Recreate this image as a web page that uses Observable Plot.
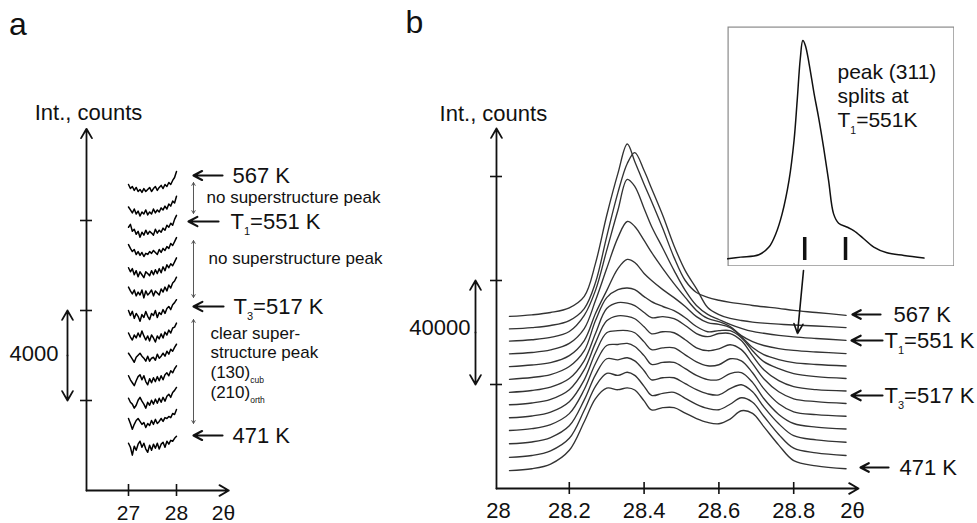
<!DOCTYPE html>
<html><head><meta charset="utf-8">
<script src="https://cdn.jsdelivr.net/npm/d3@7"></script>
<script src="https://cdn.jsdelivr.net/npm/@observablehq/plot@0.6"></script>
<style>
body{margin:0;background:#fff;}
#fig{position:relative;width:977px;height:523px;overflow:hidden;background:#fff;}
</style></head><body><div id="fig"></div>
<script>
// ---------------- DATA ----------------
const temps = [567, 559, 551, 543, 534, 526, 517, 509, 501, 494, 486, 479, 471];

// panel a: 2theta grid and intensity (counts, relative to each trace's own start)
const twoThetaA = [27.00,27.04,27.08,27.12,27.16,27.20,27.24,27.28,27.32,27.36,27.40,27.44,27.48,27.52,27.56,27.60,27.64,27.68,27.72,27.76,27.80,27.84,27.88,27.92,27.96,28.00];
const offsetsA = [13600,12600,11700,10800,9900,9000,8000,7000,6100,5100,4100,3200,2100];
const a567 = [0,-180,-90,-260,-130,-310,-220,-350,-180,-310,-220,-130,-310,-180,-90,-260,-130,-40,-180,0,-90,90,0,180,310,580];
const a559 = [0,-130,-260,-90,-310,-180,-400,-220,-310,-130,-350,-220,-310,-90,-260,-130,-220,-40,-130,40,-90,130,40,260,180,480];
const a551 = [0,130,-180,-90,-310,-180,-440,-220,-350,-130,-310,-180,-260,-350,-90,-260,-130,-220,-40,-130,90,0,180,90,350,530];
const a543 = [130,-40,-180,-90,-310,-180,-350,-220,-400,-260,-310,-180,-260,-130,-220,-310,-90,-220,-40,-130,40,-40,180,90,260,440];
const a534 = [0,-180,-40,-310,-130,-400,-180,-310,-440,-180,-260,-350,-130,-310,-90,-260,-40,-220,40,-130,130,0,180,90,260,440];
const a526 = [40,-130,-260,-90,-350,-180,-310,-90,-440,-130,-310,-220,-90,-350,-130,-220,-310,-40,-180,40,-130,130,0,220,310,480];
const a517 = [0,-220,-40,-350,-130,-260,-480,-180,-310,-40,-260,-400,-130,-220,0,-310,-90,-180,40,-130,90,180,40,260,350,480];
const a509 = [0,-180,-310,-90,-220,0,-180,90,-130,-310,-130,-350,-90,-220,-400,-130,-260,-40,-220,40,-90,130,0,220,260,440];
const a501 = [0,-130,-260,-400,-180,-90,0,-130,-220,-350,-130,-350,-220,-180,-310,-40,-220,-130,0,-130,90,-40,180,90,260,400];
const a494 = [0,-180,-310,-440,-220,-40,40,-180,0,-260,-400,-130,-310,-90,-260,-40,-220,0,-180,40,130,0,220,130,310,440];
const a486 = [0,-180,-260,-440,-310,-90,40,-130,-260,-440,-180,-310,-90,-260,-40,-220,0,-180,40,-130,90,180,40,260,350,480];
const a479 = [0,-220,-480,-260,-90,0,-130,-260,-180,-400,-220,-310,-90,-260,-40,-220,-130,0,-130,40,0,90,40,220,180,400];
const a471 = [0,-180,-530,-130,-310,-40,90,-180,0,-260,-400,-90,-310,-40,-220,0,-260,-40,40,-180,90,-40,130,90,220,310];
const seriesA = [a567,a559,a551,a543,a534,a526,a517,a509,a501,a494,a486,a479,a471];

// panel b: 2theta grid and intensity (counts above each trace's baseline)
const twoThetaB = [28.04,28.10,28.15,28.20,28.24,28.27,28.30,28.33,28.355,28.375,28.40,28.42,28.45,28.48,28.51,28.54,28.57,28.60,28.63,28.66,28.69,28.72,28.76,28.80,28.86,28.94];
const offsetsB = [66200,61400,56700,51800,46900,42000,37000,32200,27200,22300,17200,12000,6900];
const b567 = [0,600,1500,3300,7700,20400,38800,55000,66300,59600,50800,44200,33800,22700,13800,9200,7300,6200,5400,4800,4200,3700,3100,2300,1500,400];
const b559 = [0,500,1300,3200,7800,17800,35500,52400,63600,67800,60900,54000,43600,32000,22400,15500,8200,5500,4000,3200,2600,2200,1800,1500,1100,500];
const b551 = [0,500,1400,3700,9900,19500,34900,50300,62200,59500,51000,44100,35700,27200,19500,13700,10300,8300,6400,4900,3700,3000,2200,1600,1000,300];
const b543 = [0,500,1500,4000,9700,20500,32800,44700,50900,49000,43600,39000,32800,27000,21700,16700,13600,12400,10500,7000,4700,3200,2000,1300,700,100];
const b534 = [0,600,1500,4200,10000,20400,29200,37700,41200,40000,35800,33100,29600,26500,23100,19200,16900,16200,15000,11500,7300,4600,2700,1500,800,200];
const b526 = [0,700,1800,4900,11000,22600,31400,34500,35100,34500,31800,29900,28000,26400,23700,20300,18300,18700,18700,16000,11000,6800,4100,2200,1000,300];
const b517 = [0,700,2000,5300,12200,22600,32200,34500,34300,33300,30700,28700,29100,28300,25700,22600,21400,22600,22600,19900,14100,8700,4500,2200,1000,500];
const b509 = [0,700,2100,5800,13500,23800,32300,34200,34000,33100,30000,27300,28100,27700,25000,21900,20800,21500,23100,21200,15800,10000,5000,2300,1200,500];
const b501 = [0,700,2200,6200,14600,25000,32700,33500,33500,32700,29200,26200,26900,26900,24200,21500,20000,20400,22700,21900,17300,11200,5400,2300,1200,600];
const b494 = [0,700,2300,6500,15800,25800,32700,33100,33500,32300,28800,25400,26200,26200,23800,21200,19600,19600,21900,22300,18500,12300,6200,2700,1300,600];
const b486 = [0,700,2400,6900,16900,26500,32700,32300,33100,31900,28100,24600,25400,25400,23100,20800,19200,18800,21200,22700,20000,14200,7700,3100,1500,600];
const b479 = [0,700,2500,7300,18100,27300,32300,31500,32700,31500,27300,23800,24600,25000,22700,20400,18800,18300,20400,22900,21200,15800,8800,3500,1700,700];
const b471 = [0,700,2500,7800,18800,27700,31700,31100,31800,31000,26800,23300,24200,24200,22100,20000,18500,18000,19800,23000,22000,16900,9800,3800,1800,700];
const seriesB = [b567,b559,b551,b543,b534,b526,b517,b509,b501,b494,b486,b479,b471];

// inset: (311) peak at T1 = 551 K
const insetX = [28.250,28.271,28.300,28.316,28.327,28.337,28.348,28.356,28.361,28.366,28.370,28.374,28.380,28.388,28.395,28.403,28.411,28.419,28.427,28.441,28.451,28.467,28.483,28.504,28.531,28.563];
const insetY = [2.8,3.5,4.5,7.7,13.3,21.6,35.6,52.3,69.0,86.7,94.1,92.1,84.4,71.8,62.1,49.5,35.6,21.6,17.7,16.0,14.6,11.2,7.7,5.3,4.2,3.1];
const insetSplit = [28.373, 28.438];

const ticksA = [27, 28];
const yTicksA = [4000, 8000, 12000];
const ticksB = [28.2, 28.4, 28.6, 28.8];
const yTicksB = [40000, 80000, 120000];

// ---------------- RENDER ----------------
const FONT = '"Liberation Sans", Arial, Helvetica, sans-serif';
const INK = "#111";
const fig = document.getElementById("fig");

function subs(root){
  root.querySelectorAll("text").forEach(t=>{
    const s = t.textContent;
    if(!s.includes("_{")) return;
    const fs = parseFloat(getComputedStyle(t).fontSize) || 16;
    const parts = s.split(/_\{([^}]*)\}/);
    while(t.firstChild) t.removeChild(t.firstChild);
    let shifted = false;
    parts.forEach((p,i)=>{
      if(p==="") return;
      const ts = document.createElementNS("http://www.w3.org/2000/svg","tspan");
      ts.textContent = p;
      if(i%2===1){ ts.setAttribute("font-size",(fs*0.5)+"px"); ts.setAttribute("dy",(fs*0.3)+"px"); shifted=true; }
      else if(shifted){ ts.setAttribute("dy",(-fs*0.3)+"px"); shifted=false; }
      t.appendChild(ts);
    });
  });
}
function place(el,left,top){
  el.style.position="absolute"; el.style.left=left+"px"; el.style.top=top+"px";
  fig.appendChild(el); subs(el); return el;
}
const one = [0];
function arrow(x1,y1,x2,y2,o={}){
  return Plot.arrow(one,{x1,y1,x2,y2,stroke:o.stroke||INK,strokeWidth:o.w||1.8,headLength:o.h||9,headAngle:o.a||60});
}
function dbl(x,ya,yb,o){
  const m=(ya+yb)/2; return [arrow(x,m,x,ya,o),arrow(x,m,x,yb,o)];
}
function txt(x,y,text,size,anchor="start",extra={}){
  return Plot.text(one,{x,y,text:[text],fontSize:size,textAnchor:anchor,lineAnchor:"middle",fill:INK,...extra});
}

// ---------- Panel a ----------
const rowsA = temps.flatMap((t,i)=>seriesA[i].map((v,j)=>({t,x:twoThetaA[j],y:offsetsA[i]+v})));
const panelA = Plot.plot({
  width:400,height:523,margin:0,
  x:{domain:[24.3333,32.6667],axis:null},
  y:{domain:[-1466.67,21777.78],axis:null},
  style:{fontFamily:FONT,background:"transparent",overflow:"visible"},
  marks:[
    Plot.line(rowsA,{x:"x",y:"y",z:"t",stroke:"#000",strokeWidth:1.5,curve:"linear"}),
    arrow(26.125,0,26.125,16076,{w:1.8}),
    arrow(26.125,0,29.09,0,{w:1.8}),
    Plot.ruleY(yTicksA,{y:d=>d,x1:26.0,x2:26.25,stroke:INK,strokeWidth:1.6}),
    Plot.ruleX(ticksA,{x:d=>d,y1:-267,y2:267,stroke:INK,strokeWidth:1.6}),
    Plot.text(ticksA,{x:d=>d,y:-1022,text:d=>String(d),fontSize:21,fill:INK,lineAnchor:"middle"}),
    txt(28.979,-1022,"2θ",21,"middle"),
    txt(24.698,20711,"a",32,"middle"),
    txt(26.1667,16800,"Int., counts",22,"middle"),
    txt(25.5417,6089,"4000",22,"end"),
    ...dbl(25.729,8000,4000,{w:1.8,h:9}),
    // temperature arrows
    arrow(28.958,14000,28.354,14000,{w:2.2,h:10,a:55}),
    arrow(28.875,11955,28.25,11955,{w:2.2,h:10,a:55}),
    arrow(28.979,8178,28.354,8178,{w:2.2,h:10,a:55}),
    arrow(28.958,2444,28.354,2444,{w:2.2,h:10,a:55}),
    txt(29.1667,14000,"567 K",22),
    txt(29.125,11955,"T_{1}=551 K",22),
    txt(29.1875,8178,"T_{3}=517 K",22),
    txt(29.1667,2444,"471 K",22),
    ...dbl(28.354,13689,12311,{w:1,h:5,stroke:"#555"}),
    ...dbl(28.354,11111,8578,{w:1,h:5,stroke:"#555"}),
    ...dbl(28.354,7600,2978,{w:1,h:5,stroke:"#555"}),
    txt(28.625,13022,"no superstructure peak",17),
    txt(28.667,10311,"no superstructure peak",17),
    txt(28.708,6978,"clear super-",17),
    txt(28.708,6133,"structure peak",17),
    txt(28.708,5244,"(130)_{cub}",17),
    txt(28.708,4356,"(210)_{orth}",17)
  ]
});
place(panelA,0,0);

// ---------- Panel b ----------
const rowsB = temps.flatMap((t,i)=>seriesB[i].map((v,j)=>({t,x:twoThetaB[j],y:offsetsB[i]+v})));
const panelB = Plot.plot({
  width:577,height:523,margin:0,
  x:{domain:[27.74866,29.29144],axis:null},
  y:{domain:[-13461.5,187692.3],axis:null},
  style:{fontFamily:FONT,background:"transparent",overflow:"visible"},
  marks:[
    Plot.line(rowsB,{x:"x",y:"y",z:"t",stroke:"#333",strokeWidth:1.35,curve:"catmull-rom"}),
    arrow(28.0053,0,28.0053,138462,{w:1.8}),
    arrow(28.0053,0,28.9733,0,{w:1.8}),
    Plot.ruleY(yTicksB,{y:d=>d,x1:27.9893,x2:28.0214,stroke:INK,strokeWidth:1.6}),
    Plot.ruleX(ticksB,{x:d=>d,y1:-2308,y2:2308,stroke:INK,strokeWidth:1.6}),
    Plot.text(ticksB,{x:d=>d,y:-8462,text:d=>d.toFixed(1),fontSize:22,fill:INK,lineAnchor:"middle"}),
    txt(28.0107,-8462,"28",22,"middle"),
    txt(28.957,-8462,"2θ",22,"middle"),
    txt(27.786,179231,"b",32,"middle"),
    txt(27.997,144231,"Int., counts",22,"middle"),
    txt(27.9358,61923,"40000",22,"end"),
    ...dbl(27.9492,80000,40000,{w:1.8,h:9}),
    arrow(29.0321,66923,28.957,66923,{w:2.2,h:10,a:55}),
    arrow(29.0374,56923,28.9545,56923,{w:2.2,h:10,a:55}),
    arrow(29.0374,35769,28.9545,35769,{w:2.2,h:10,a:55}),
    arrow(29.0535,8077,28.9786,8077,{w:2.2,h:10,a:55}),
    txt(29.0668,66923,"567 K",22),
    txt(29.0428,56923,"T_{1}=551 K",22),
    txt(29.0428,35769,"T_{3}=517 K",22),
    txt(29.0829,8077,"471 K",22),
    arrow(28.8262,83846,28.8102,59615,{w:1.6,h:10,a:50})
  ]
});
place(panelB,400,0);

// ---------- Inset ----------
const insetRows = insetX.map((x,i)=>({x,y:insetY[i]}));
const inset = Plot.plot({
  width:227,height:240,margin:0,
  x:{domain:[28.25,28.6116],axis:null},
  y:{domain:[-0.42,100],axis:null},
  style:{fontFamily:FONT,background:"#fff"},
  marks:[
    Plot.frame({stroke:"#8a8a8a",strokeWidth:1.2,inset:0.6}),
    Plot.line(insetRows,{x:"x",y:"y",stroke:"#111",strokeWidth:1.5,curve:"catmull-rom"}),
    Plot.ruleX(insetSplit,{x:d=>d,y1:2.09,y2:11.72,stroke:"#111",strokeWidth:3.5}),
    txt(28.4252,80.75,"peak (311)",21),
    txt(28.4252,70.71,"splits at",21),
    txt(28.4252,60.67,"T_{1}=551K",21)
  ]
});
place(inset,727,26);
</script></body></html>
